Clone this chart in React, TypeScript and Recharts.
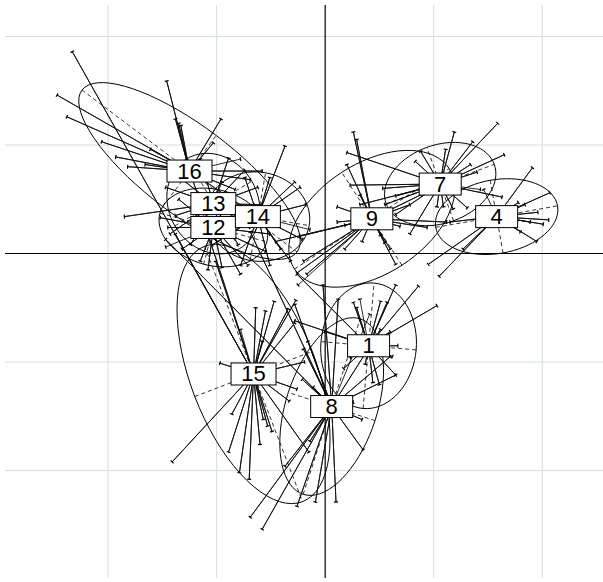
import React from 'react';
import { ScatterChart, Scatter, XAxis, YAxis, ReferenceLine } from 'recharts';

// class labels and their centres (axis units, one grid cell = 1)
const classes = ['16', '13', '12', '14', '9', '7', '4', '1', '15', '8'];
const centerX = [-1.25, -1.03, -1.03, -0.62, 0.43, 1.06, 1.58, 0.4, -0.66, 0.06];
const centerY = [0.76, 0.46, 0.24, 0.34, 0.32, 0.64, 0.34, -0.85, -1.11, -1.41];

// inertia ellipses: half axes and angle of the long axis (degrees)
const ellA = [1.24, 0.48, 0.51, 0.48, 0.85, 0.53, 0.57, 0.58, 1.26, 0.85];
const ellB = [0.41, 0.41, 0.35, 0.41, 0.51, 0.36, 0.34, 0.44, 0.58, 0.42];
const ellAngle = [-37, -60, -15, -10, 33, 20, 10, 85, -69, 72];

// individual rows per class
const pts16 = [
  [-2.47, 1.46], [-2.38, 1.26], [-2.06, 1.03], [-1.93, 0.89], [-1.82, 0.8], [-1.46, 1.59],
  [-1.38, 1.24], [-1.35, 1.2], [-1.33, 1.18], [-0.96, 1.24], [-0.83, 0.59], [-0.69, 0.68],
  [-0.89, 0.52], [-1.11, 0.36], [-1.61, 0.96], [-0.58, 0.76], [-1.66, 0.82], [-1.03, 1.02],
  [-0.78, 0.87],
];
const pts13 = [
  [-1.85, 0.34], [-1.38, 0.35], [-1.47, 0.61], [-1.34, 0.7], [-1.15, 0.87], [-0.89, 0.88],
  [-0.74, 0.77], [-0.62, 0.61], [-0.69, 0.24], [-0.8, 0.08], [-1.24, 0.08], [-1.43, 0.18],
  [-0.58, 0.45], [-0.95, 0.66],
];
const pts12 = [
  [-1.45, 0.24], [-1.52, 0.33], [-1.32, 0.04], [-1.15, -0.07], [-0.95, -0.13], [-0.71, -0.11],
  [-0.55, 0.02], [-0.51, 0.18], [-0.65, 0.45], [-1.35, 0.5], [-1.08, -0.15], [-0.78, -0.19],
  [-1.47, 0.06],
];
const pts14 = [
  [-0.37, 0.99], [-0.28, 0.66], [-0.23, 0.61], [-0.18, 0.45], [-0.21, 0.13], [-0.32, -0.07],
  [-0.51, -0.11], [-0.78, -0.11], [-1.04, 0.08], [-0.74, 0.7], [-0.51, 0.7], [-0.92, 0.54],
  [-0.41, 0.04], [-0.88, 0.18], [-0.14, 0.22],
];
const pts9 = [
  [0.26, 1.12], [0.29, 1.05], [0.2, 0.82], [0.11, 0.43], [0.11, 0.29], [0.18, 0.26],
  [-0.23, 0.16], [-0.46, 0.11], [-0.26, -0.18], [-0.17, -0.19], [-0.2, -0.07], [0.34, 0.11],
  [0.51, 0.17], [0.55, 0.1], [0.6, 0.04], [0.18, 0.04], [0.69, 0.25], [0.94, 0.24],
  [1.12, 0.29], [0.78, 0.45], [0.88, 0.54], [0.65, -0.1], [0.32, 0.54], [-0.25, -0.29],
];
const pts7 = [
  [1.59, 1.2], [1.19, 1.12], [1.36, 1.03], [1.65, 0.91], [1.11, 0.96], [0.88, 0.94],
  [0.83, 0.85], [0.23, 0.63], [0.2, 0.93], [0.53, 0.6], [0.65, 0.53], [1.63, 0.52],
  [1.4, 0.75], [1.09, 0.43], [1.18, 0.41], [1.31, 0.42], [1.03, 0.43], [0.55, 0.45],
  [0.65, 0.36], [0.78, 0.18], [0.32, 0.45], [1.34, 0.82], [1.43, 0.59],
];
const pts4 = [
  [1.91, 0.79], [2.07, 0.56], [1.96, 0.38], [2.06, 0.31], [1.95, 0.11], [1.8, 0.2],
  [1.84, 0.45], [1.78, 0.47], [1.27, 0.04], [0.95, -0.1], [1.05, -0.21], [1.15, 0.29],
  [1.89, 0.29], [2.01, 0.27], [1.46, 0.59],
];
const pts1 = [
  [1.03, -0.48], [0.86, -0.3], [0.65, -0.29], [0.51, -0.44], [0.57, -0.45], [0.26, -0.45],
  [0.29, -0.5], [0.6, -0.72], [0.67, -0.85], [0.62, -0.95], [0.65, -1.12], [0.5, -1.21],
  [0.44, -1.19], [0.17, -1.06], [0.23, -0.96], [0.0, -0.72], [-0.26, -0.19], [-0.28, -0.62],
  [0.37, -1.02], [0.32, -0.42],
];
const pts15 = [
  [-0.97, -1.01], [-0.64, -0.5], [-0.55, -0.53], [-0.47, -0.44], [-0.58, -0.81], [-0.34, -0.51],
  [-0.27, -0.43], [-0.28, -0.64], [-0.19, -1.0], [-0.26, -1.25], [-0.33, -1.36], [-0.86, -1.48],
  [-0.89, -1.83], [-0.79, -2.02], [-0.7, -2.08], [-1.41, -1.92], [-0.6, -1.76], [-0.57, -1.53],
  [-0.53, -1.59], [-0.49, -1.64], [-0.15, -1.83], [-2.33, 1.86], [-1.38, 0.18], [-1.11, 0.27],
  [-1.01, -0.07], [-0.78, -0.7],
];
const pts8 = [
  [-0.21, -1.16], [-0.11, -1.23], [-0.2, -0.88], [-0.16, -0.81], [-0.02, -0.29], [0.12, -0.42],
  [-0.28, -0.47], [0.6, -0.95], [0.65, -1.12], [0.26, -1.37], [0.34, -1.53], [0.35, -1.81],
  [0.1, -2.29], [-0.09, -2.29], [-0.26, -2.33], [-0.37, -1.96], [-0.58, -2.54], [-0.69, -2.43],
  [-0.14, -1.73], [-1.47, 0.13], [-0.69, 0.2], [0.51, -0.7], [0.41, -0.56],
];
const classPoints = [pts16, pts13, pts12, pts14, pts9, pts7, pts4, pts1, pts15, pts8];

const gridValues = [-2, -1, 1, 2];

const None = () => <g />;

// short bar across the end of each ray
const TickMark = (props: any) => {
  const { cx, cy, payload } = props;
  const dx = payload.x - payload.ox;
  const dy = -(payload.y - payload.oy);
  const len = Math.hypot(dx, dy) || 1;
  const nx = -dy / len;
  const ny = dx / len;
  const h = 2;
  return (
    <line x1={cx - nx * h} y1={cy - ny * h} x2={cx + nx * h} y2={cy + ny * h} stroke="#000" strokeWidth={1.2} />
  );
};

const LabelBox = (props: any) => {
  const { cx, cy, payload } = props;
  const w = payload.label.length > 1 ? 45 : 42;
  const h = 22;
  return (
    <g>
      <rect x={cx - w / 2} y={cy - h / 2} width={w} height={h} fill="#fff" stroke="#000" strokeWidth={1} />
      <text x={cx} y={cy + 7.5} textAnchor="middle" fontSize={22} fontFamily="'Liberation Sans', Arial, sans-serif" fill="#000">
        {payload.label}
      </text>
    </g>
  );
};

export default function App() {
  const stars = classPoints.map((pts, i) =>
    pts.flatMap(([x, y]) => [{ x: centerX[i], y: centerY[i] }, { x, y }])
  );
  const ticks = classPoints.flatMap((pts, i) =>
    pts.map(([x, y]) => ({ x, y, ox: centerX[i], oy: centerY[i] }))
  );
  const ellipses = classes.map((_, i) => {
    const t = (ellAngle[i] * Math.PI) / 180;
    const out = [];
    for (let k = 0; k <= 72; k++) {
      const s = (k / 72) * 2 * Math.PI;
      const u = ellA[i] * Math.cos(s);
      const v = ellB[i] * Math.sin(s);
      out.push({ x: centerX[i] + u * Math.cos(t) - v * Math.sin(t), y: centerY[i] + u * Math.sin(t) + v * Math.cos(t) });
    }
    return out;
  });
  const majorAxes = classes.map((_, i) => {
    const t = (ellAngle[i] * Math.PI) / 180;
    const ex = ellA[i] * Math.cos(t), ey = ellA[i] * Math.sin(t);
    return [{ x: centerX[i] - ex, y: centerY[i] - ey }, { x: centerX[i] + ex, y: centerY[i] + ey }];
  });
  const minorAxes = classes.map((_, i) => {
    const t = (ellAngle[i] * Math.PI) / 180;
    const ex = -ellB[i] * Math.sin(t), ey = ellB[i] * Math.cos(t);
    return [{ x: centerX[i] - ex, y: centerY[i] - ey }, { x: centerX[i] + ex, y: centerY[i] + ey }];
  });
  const labels = classes.map((label, i) => ({ x: centerX[i], y: centerY[i], label }));

  const dashed = { stroke: '#000', strokeWidth: 0.8, strokeDasharray: '4 3' };
  const solid = { stroke: '#111', strokeWidth: 0.9 };

  return (
    <div style={{ position: 'absolute', left: 0, top: 0, width: 603, height: 582, background: '#fff' }}>
      <ScatterChart width={603} height={582} margin={{ top: 5, right: 0, bottom: 4, left: 5 }}>
        <XAxis type="number" dataKey="x" domain={[-2.95, 2.56]} hide allowDataOverflow />
        <YAxis type="number" dataKey="y" domain={[-2.99, 2.29]} hide allowDataOverflow />
        {gridValues.map((v) => (
          <ReferenceLine key={'gx' + v} x={v} stroke="#d3e0e0" strokeWidth={1} />
        ))}
        {gridValues.map((v) => (
          <ReferenceLine key={'gy' + v} y={v} stroke="#d3e0e0" strokeWidth={1} />
        ))}
        <ReferenceLine x={0} stroke="#000" strokeWidth={1.2} />
        <ReferenceLine y={0} stroke="#000" strokeWidth={1.2} />
        {stars.map((d, i) => (
          <Scatter key={'s' + i} data={d} line={solid} shape={None} isAnimationActive={false} />
        ))}
        {ellipses.map((d, i) => (
          <Scatter key={'e' + i} data={d} line={{ stroke: '#000', strokeWidth: 1 }} shape={None} isAnimationActive={false} />
        ))}
        {majorAxes.map((d, i) => (
          <Scatter key={'ma' + i} data={d} line={dashed} shape={None} isAnimationActive={false} />
        ))}
        {minorAxes.map((d, i) => (
          <Scatter key={'mi' + i} data={d} line={dashed} shape={None} isAnimationActive={false} />
        ))}
        <Scatter data={ticks} shape={TickMark} isAnimationActive={false} />
        <Scatter data={labels} shape={LabelBox} isAnimationActive={false} />
      </ScatterChart>
    </div>
  );
}
